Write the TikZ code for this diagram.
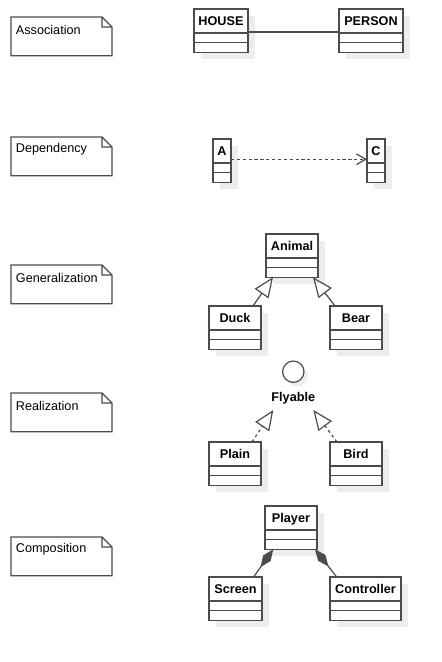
\documentclass[tikz,border=0pt]{standalone}
\usepackage{fontspec}
\setmainfont{Liberation Sans}
\usetikzlibrary{arrows.meta,shadows}

\tikzset{
  line/.style={draw=black!70, line width=0.9pt},
  cls/.style={line, fill=white, outer sep=0pt, inner sep=1pt, minimum width=#1,
    drop shadow={shadow xshift=5pt, shadow yshift=-5pt, fill=black!7, opacity=1}},
  clshead/.style={cls=#1, anchor=north west, minimum height=18pt, text depth=0.5pt, font=\fontsize{9.5}{11}\selectfont\bfseries},
  clspart/.style={cls=#1, anchor=north, minimum height=7.2pt},
  note/.style={anchor=north west, minimum width=75.75pt, minimum height=29pt, inner sep=0pt, outer sep=0pt,
    label={[anchor=west, xshift=3.5pt, yshift=-9.5pt, inner sep=0pt]north west:#1},
    append after command={\pgfextra{
      \draw[line] (\tikzlastnode.south west) -- (\tikzlastnode.north west)
        -- ([xshift=-7.5pt]\tikzlastnode.north east) -- ([yshift=-7.5pt]\tikzlastnode.north east)
        -- (\tikzlastnode.south east) -- cycle
        ([xshift=-7.5pt]\tikzlastnode.north east) -- ([xshift=-7.5pt,yshift=-7.5pt]\tikzlastnode.north east)
        -- ([yshift=-7.5pt]\tikzlastnode.north east);}}},
  inherit/.style={line, -{Triangle[open, length=15pt, width=12.5pt]}},
  realize/.style={inherit, dash pattern=on 2.2pt off 2.2pt},
  depend/.style={line, dash pattern=on 2.4pt off 2pt, -{Straight Barb[length=7pt, width=8pt]}},
  compose/.style={line, -{Diamond[length=16.5pt, width=7pt]}},
}

\begin{document}
\begin{tikzpicture}[x=0.75pt, y=-0.75pt, font=\fontsize{9.5}{11}\selectfont]
  \useasboundingbox (0,0) rectangle (442,662);

  % notes
  \node[note=Association] (nassoc) at (11,17) {};
  \node[note=Dependency] (ndep) at (11,137) {};
  \node[note=Generalization] (ngen) at (11,265) {};
  \node[note=Realization] (nreal) at (11,393) {};
  \node[note=Composition] (ncomp) at (11,537) {};

  % association
  \node[clshead=40.5pt] (house) at (194,9) {HOUSE};
  \node[clspart=40.5pt] (house-1) at (house.south) {};
  \node[clspart=40.5pt] (house-2) at (house-1.south) {};
  \node[clshead=48pt] (person) at (339,9) {PERSON};
  \node[clspart=48pt] (person-1) at (person.south) {};
  \node[clspart=48pt] (person-2) at (person-1.south) {};
  \draw[line] ([yshift=0.75pt]house.south east) -- ([yshift=0.75pt]person.south west);

  % dependency
  \node[clshead=13.5pt] (a) at (213,139) {A};
  \node[clspart=13.5pt] (a-1) at (a.south) {};
  \node[clspart=13.5pt] (a-2) at (a-1.south) {};
  \node[clshead=13.5pt] (c) at (367,139) {C};
  \node[clspart=13.5pt] (c-1) at (c.south) {};
  \node[clspart=13.5pt] (c-2) at (c-1.south) {};
  \draw[depend] ([yshift=2.8pt]a.south east) -- ([yshift=2.8pt]c.south west);

  % generalization
  \node[clshead=39pt] (animal) at (266,234) {Animal};
  \node[clspart=39pt] (animal-1) at (animal.south) {};
  \node[clspart=39pt] (animal-2) at (animal-1.south) {};
  \node[clshead=39pt] (duck) at (209,306) {Duck};
  \node[clspart=39pt] (duck-1) at (duck.south) {};
  \node[clspart=39pt] (duck-2) at (duck-1.south) {};
  \node[clshead=39pt] (bear) at (330,306) {Bear};
  \node[clspart=39pt] (bear-1) at (bear.south) {};
  \node[clspart=39pt] (bear-2) at (bear-1.south) {};
  \draw[inherit] ([xshift=-6pt]duck.north east) -- ([xshift=5.25pt]animal-2.south west);
  \draw[inherit] ([xshift=3.75pt]bear.north west) -- ([xshift=-3.75pt]animal-2.south east);

  % realization
  \node[line, circle, fill=white, minimum size=16pt, inner sep=0pt,
    drop shadow={shadow xshift=3pt, shadow yshift=-3pt, fill=black!7, opacity=1}] (flyable) at (293.3,371.7) {};
  \node[font=\fontsize{9.5}{11}\selectfont\bfseries] (flylbl) at (293.3,398) {Flyable};
  \node[clshead=39pt] (plain) at (209,442) {Plain};
  \node[clspart=39pt] (plain-1) at (plain.south) {};
  \node[clspart=39pt] (plain-2) at (plain-1.south) {};
  \node[clshead=39pt] (bird) at (330,442) {Bird};
  \node[clspart=39pt] (bird-1) at (bird.south) {};
  \node[clspart=39pt] (bird-2) at (bird-1.south) {};
  \draw[realize] ([xshift=-6.75pt]plain.north east) -- ([shift={(-20,12)}]flylbl.center);
  \draw[realize] ([xshift=5.25pt]bird.north west) -- ([shift={(20,12)}]flylbl.center);

  % composition
  \node[clshead=39pt] (player) at (265,506) {Player};
  \node[clspart=39pt] (player-1) at (player.south) {};
  \node[clspart=39pt] (player-2) at (player-1.south) {};
  \node[clshead=39.75pt] (screen) at (209,577) {Screen};
  \node[clspart=39.75pt] (screen-1) at (screen.south) {};
  \node[clspart=39.75pt] (screen-2) at (screen-1.south) {};
  \node[clshead=53.25pt] (controller) at (330,577) {Controller};
  \node[clspart=53.25pt] (controller-1) at (controller.south) {};
  \node[clspart=53.25pt] (controller-2) at (controller-1.south) {};
  \draw[compose] ([xshift=-6.3pt]screen.north east) -- ([xshift=6.2pt]player-2.south west);
  \draw[compose] ([xshift=5pt]controller.north west) -- ([xshift=-1.5pt]player-2.south east);
\end{tikzpicture}
\end{document}
